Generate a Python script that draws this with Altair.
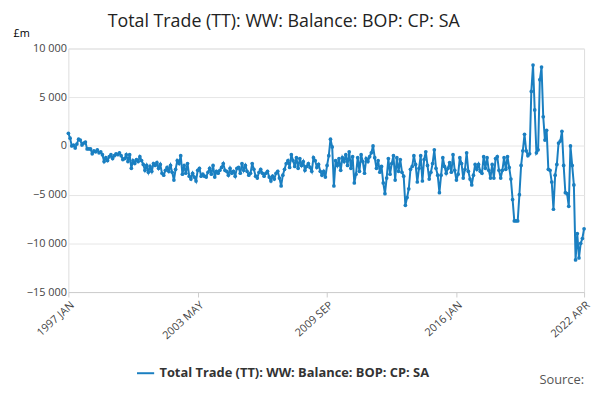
import altair as alt
import pandas as pd

series_name = "Total Trade (TT): WW: Balance: BOP: CP: SA"
y1997 = [1300, 800, 0, 100, -200, 200, 700, 600, 100, 300, 400, -300]
y1998 = [-300, -300, -800, -500, -600, -400, -700, -600, -900, -1600, -1200, -1500]
y1999 = [-1100, -900, -1300, -1000, -800, -900, -700, -1000, -1400, -1300, -900, -1600]
y2000 = [-900, -2300, -1500, -1800, -1400, -1600, -1100, -1500, -1900, -2500, -2000, -2700]
y2001 = [-2100, -2600, -1800, -2000, -1700, -2300, -1900, -2800, -3000, -2500, -2200, -2600]
y2002 = [-2000, -2700, -3500, -2400, -1500, -1800, -1000, -2900, -2000, -2800, -1800, -3100]
y2003 = [-3400, -2800, -3200, -3600, -2500, -2300, -3100, -2900, -3100, -3200, -2700, -2300]
y2004 = [-2900, -2000, -3200, -2600, -2800, -2500, -2200, -1800, -2500, -2600, -3000, -2300]
y2005 = [-2800, -2600, -3100, -2300, -2200, -2800, -1800, -2500, -2000, -2600, -3000, -2800]
y2006 = [-1800, -2400, -3100, -3300, -2700, -2400, -2800, -3100, -2800, -2600, -3200, -3600]
y2007 = [-3100, -3400, -2800, -2600, -3300, -4100, -3000, -2400, -1800, -1500, -2200, -900]
y2008 = [-1500, -2100, -1200, -2300, -1300, -2000, -1600, -2500, -2100, -1800, -2200, -2600]
y2009 = [-1200, -1500, -2200, -1900, -2600, -3000, -2600, -3200, -2000, -1000, 700, -100]
y2010 = [-4100, -1500, -2000, -1300, -2500, -1200, -1600, -900, -2000, -600, -2300, -1100]
y2011 = [-3800, -2900, -1200, -2600, -900, -1600, -2800, -1300, -1600, -1100, -700, 0]
y2012 = [-1200, -2300, -1500, -2700, -2100, -3800, -4900, -3300, -1300, -2900, -1800, -1000]
y2013 = [-3500, -1200, -2600, -1400, -2700, -3100, -6100, -5300, -4400, -2400, -2100, -1000]
y2014 = [-1900, -3700, -2300, -1000, -3600, -1400, -600, -2000, -3400, -2700, -1800, -400]
y2015 = [-2300, -3000, -4800, -3000, -1200, -2100, -2800, -2300, -1700, -2700, -900, -2500]
y2016 = [-3500, -2900, -1200, -1800, -3300, -2400, -700, -2600, -3400, -4000, -3000, -1900]
y2017 = [-2400, -1900, -2600, -2800, -1100, -2300, -1200, -2500, -3300, -1900, -3300, -1300]
y2018_start = [-1100, -2500]
tail_2018_2022 = [-3300, -2500, -1200, -2400, -1100, -2200, -3400, -5500, -7700, -7700,
                  -7700, -5000, -2000, -500, 1200, -500, -1000, -800, 5600, 8300,
                  3700, -700, -400, 6800, 8100, 3000, 600, 1600, -2400, -2500,
                  -3700, -6500, -3000, -1900, 300, 500, 1500, -2000, -4800, -4900,
                  -6200, 0, -2000, -4000, -11700, -9000, -11500, -10000, -9500, -8500]

values = (y1997 + y1998 + y1999 + y2000 + y2001 + y2002 + y2003 + y2004 + y2005 + y2006
          + y2007 + y2008 + y2009 + y2010 + y2011 + y2012 + y2013 + y2014 + y2015 + y2016
          + y2017 + y2018_start + tail_2018_2022)
n = len(values)
tick_idx = [0, 76, 152, 228, n - 1]
tick_labels = ["1997 JAN", "2003 MAY", "2009 SEP", "2016 JAN", "2022 APR"]

df = pd.DataFrame({"i": list(range(n)), "v": values, "s": series_name})
label_expr = "{" + ",".join(f"'{i}':'{l}'" for i, l in zip(tick_idx, tick_labels)) + "}[toString(datum.value)]"

color = "#1a7fc1"
base = alt.Chart(df)
line = base.mark_line(strokeWidth=2, point=alt.OverlayMarkDef(size=14, filled=True)).encode(
    x=alt.X("i:Q", scale=alt.Scale(domain=[0, n - 1], nice=False),
            axis=alt.Axis(values=tick_idx, labelExpr=label_expr, labelAngle=318, grid=False,
                          title=None, labelFontSize=11, labelColor="#444", domainColor="#ccc",
                          tickColor="#ccc", labelAlign="right", labelBaseline="top")),
    y=alt.Y("v:Q", scale=alt.Scale(domain=[-15000, 10000], nice=False),
            axis=alt.Axis(values=[-15000, -10000, -5000, 0, 5000, 10000],
                          labelExpr="replace(format(datum.value, ','), ',', ' ')",
                          title="£m", titleAngle=0, titleX=-56, titleY=-10, titleAlign="left",
                          titleFontWeight="normal",
                          titleFontSize=11, labelFontSize=11, labelColor="#444", domain=False,
                          ticks=False, gridColor="#e6e6e6")),
    color=alt.Color("s:N", scale=alt.Scale(range=[color]),
                    legend=alt.Legend(orient="none", legendX=68, legendY=318, title=None,
                                      labelFontSize=13, labelLimit=500,
                                      labelFontWeight="bold", labelColor="#333",
                                      symbolType="stroke", symbolStrokeWidth=2, symbolSize=300)),
)
src = alt.Chart(pd.DataFrame({"t": ["Source:"]})).mark_text(
    align="right", fontSize=13, color="#555").encode(
    text="t:N", x=alt.value(521), y=alt.value(335))

chart = alt.layer(line, src).properties(
    width=521, height=246,
    autosize=alt.AutoSizeParams(type="none"),
    title=alt.TitleParams(series_name, fontSize=18, fontWeight="normal", color="#222",
                          offset=0, dy=3, dx=-43),
    padding={"left": 61, "top": 39, "right": 8, "bottom": 99},
).configure_view(stroke=None).configure(font="Open Sans")

chart.save("out.html", embed_options={"renderer": "svg", "actions": False})
